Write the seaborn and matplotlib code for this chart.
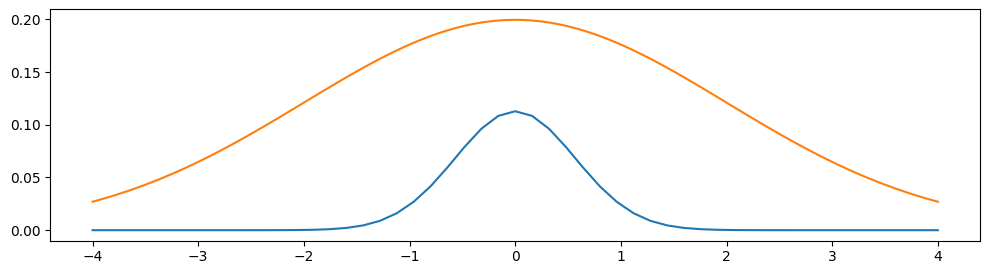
import matplotlib
matplotlib.use("Agg")
import matplotlib.pyplot as plt
import seaborn as sns
import numpy as np
import pandas as pd

# x positions
blue_x = np.linspace(-4, 4, 51)
orange_x = np.linspace(-4, 4, 101)

# values, right half only (curves are symmetric about 0)
# blue: x = 0, 0.16, ..., 4.0
blue_half = [0.1128, 0.1084, 0.0962, 0.0789, 0.0597, 0.0417, 0.0270, 0.0161,
             0.00887, 0.00451, 0.00212, 0.00092, 0.00037, 0.000137, 0.0000466,
             0.000015, 0.000004, 0.000001, 0.0, 0.0, 0.0, 0.0, 0.0, 0.0, 0.0, 0.0]
# orange: x = 0, 0.08, ..., 4.0
orange_half = [0.19947, 0.19931, 0.19883, 0.19804, 0.19693, 0.19552, 0.19381,
               0.19180, 0.18951, 0.18695, 0.18414, 0.18107, 0.17777, 0.17424,
               0.17052, 0.16661, 0.16253, 0.15829, 0.15393, 0.14943, 0.14485,
               0.14017, 0.13543, 0.13064, 0.12582, 0.12098, 0.11614, 0.11132,
               0.10653, 0.10178, 0.09709, 0.09247, 0.08792, 0.08347, 0.07911,
               0.07486, 0.07073, 0.06672, 0.06283, 0.05908, 0.05546, 0.05198,
               0.04864, 0.04544, 0.04239, 0.03947, 0.03670, 0.03407, 0.03157,
               0.02922, 0.02700]

blue_values = blue_half[:0:-1] + blue_half
orange_values = orange_half[:0:-1] + orange_half

df_blue = pd.DataFrame({"x": blue_x, "y": blue_values})
df_orange = pd.DataFrame({"x": orange_x, "y": orange_values})

fig = plt.figure(figsize=(9.9, 2.74), dpi=100)
ax = fig.add_axes([0.0508, 0.1215, 0.9392, 0.8445])
sns.lineplot(data=df_blue, x="x", y="y", ax=ax, color="#1f77b4")
sns.lineplot(data=df_orange, x="x", y="y", ax=ax, color="#ff7f0e")
ax.set_xlabel("")
ax.set_ylabel("")
ax.set_yticks([0.0, 0.05, 0.10, 0.15, 0.20])
ax.set_xticks([-4, -3, -2, -1, 0, 1, 2, 3, 4])
fig.savefig("out.png", dpi=100)
